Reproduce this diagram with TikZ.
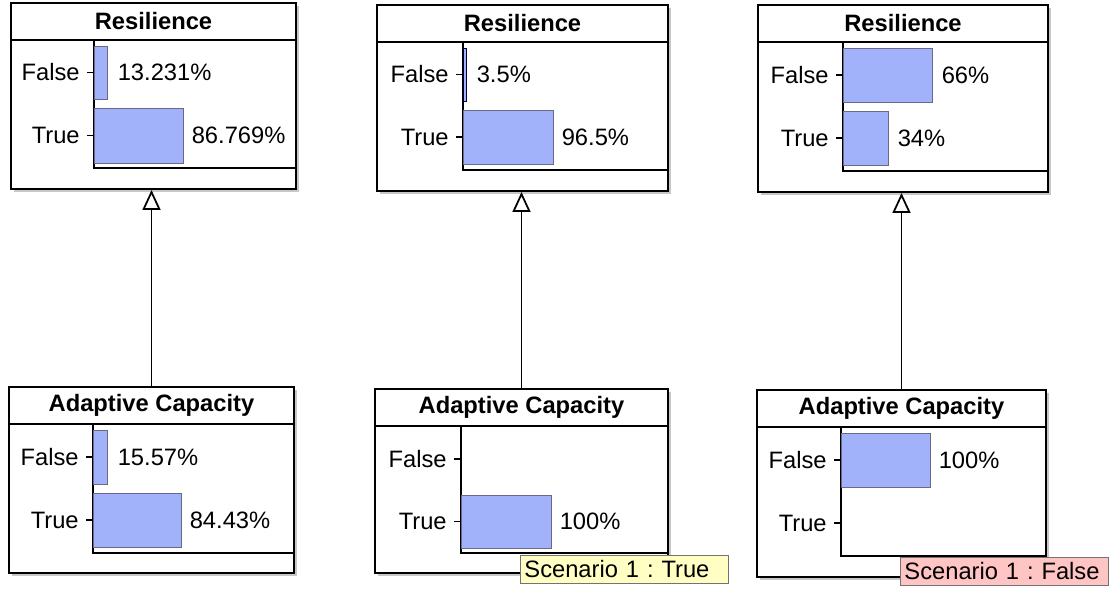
\documentclass[tikz,border=0pt]{standalone}
\usepackage{fontspec}
\setmainfont{Liberation Sans}
\usepackage{tikz}
\usetikzlibrary{positioning,arrows.meta,calc,fit,shadows}
\usepackage{xcolor}
\definecolor{barfill}{RGB}{162,178,250}
\definecolor{barline}{RGB}{105,105,135}
\definecolor{tipyel}{RGB}{255,255,196}
\definecolor{tippink}{RGB}{255,196,196}
\frenchspacing

\tikzset{
  netbox/.style={draw,line width=1.1pt,fill=white,inner sep=0pt,
    drop shadow={shadow xshift=0.06cm,shadow yshift=-0.06cm,fill=black!22,opacity=1}},
  hline/.style={line width=0.9pt},
  axisline/.style={line width=1.1pt},
  bar/.style={draw=barline,fill=barfill,line width=0.5pt,inner sep=0pt},
  ttl/.style={font=\fontsize{13.5}{16}\selectfont\bfseries,inner sep=0pt},
  lbl/.style={anchor=east,inner sep=0pt},
  val/.style={inner sep=0pt},
  tick/.style={line width=0.8pt},
  link/.style={line width=0.9pt,-{Triangle[open,fill=white,length=0.4cm,width=0.36cm,line width=1pt]}},
  scen/.style={draw=black!55,line width=0.5pt,anchor=north west,text width=4cm,
    align=left,inner xsep=0.08cm,inner ysep=0pt,minimum height=0.56cm}
}

\begin{document}
\begin{tikzpicture}[x=0.02cm,y=-0.02cm,font=\fontsize{13.5}{16}\selectfont]
\useasboundingbox[fill=white] (0,0) rectangle (1119,591);

% Resilience, prior
\node[netbox,fit={(11,3) (296,189)}] (resA) {};
\node[ttl] (resAname) at (153.5,21.5) {Resilience};
\draw[hline] (11,40) -- (296,40);
\draw[axisline] (94,40) -- (94,168) -- (296,168);
\node[bar,fit={(94,46) (107,99)}] (resAfalse) {};
\node[bar,fit={(94,108) (183,163)}] (resAtrue) {};
\node[lbl] (resAlf) at (80,72.5) {False};
\node[lbl] (resAlt) at (80,135.5) {True};
\draw[tick] (87,72.5) -- (94,72.5);
\draw[tick] (87,135.5) -- (94,135.5);
\node[val,right=0.2cm of resAfalse] (resAvf) {13.231\%};
\node[val,right=0.16cm of resAtrue] (resAvt) {86.769\%};

% Resilience, Scenario 1 : True
\node[netbox,fit={(377,5) (668,191)}] (resB) {};
\node[ttl] (resBname) at (522.5,23.5) {Resilience};
\draw[hline] (377,42) -- (668,42);
\draw[axisline] (463,42) -- (463,170) -- (668,170);
\node[bar,draw=black!80!blue,fit={(463,48) (466,101)}] (resBfalse) {};
\node[bar,fit={(463,110) (553,164)}] (resBtrue) {};
\node[lbl] (resBlf) at (449,74.5) {False};
\node[lbl] (resBlt) at (449,137) {True};
\draw[tick] (456,74.5) -- (463,74.5);
\draw[tick] (456,137) -- (463,137);
\node[val,right=0.2cm of resBfalse] (resBvf) {3.5\%};
\node[val,right=0.16cm of resBtrue] (resBvt) {96.5\%};

% Resilience, Scenario 1 : False
\node[netbox,fit={(758,5) (1048,192)}] (resC) {};
\node[ttl] (resCname) at (903,23.5) {Resilience};
\draw[hline] (758,42) -- (1048,42);
\draw[axisline] (843,42) -- (843,171) -- (1048,171);
\node[bar,fit={(843,48) (932,102)}] (resCfalse) {};
\node[bar,fit={(843,111) (888,165)}] (resCtrue) {};
\node[lbl] (resClf) at (829,75) {False};
\node[lbl] (resClt) at (829,138) {True};
\draw[tick] (836,75) -- (843,75);
\draw[tick] (836,138) -- (843,138);
\node[val,right=0.18cm of resCfalse] (resCvf) {66\%};
\node[val,right=0.18cm of resCtrue] (resCvt) {34\%};

% Adaptive Capacity, prior
\node[netbox,fit={(9,387) (294,573)}] (adcA) {};
\node[ttl] (adcAname) at (151.5,405.5) {Adaptive Capacity};
\draw[hline] (9,424) -- (294,424);
\draw[axisline] (93,424) -- (93,553) -- (294,553);
\node[bar,fit={(93,430) (107,484)}] (adcAfalse) {};
\node[bar,fit={(93,493) (181,547)}] (adcAtrue) {};
\node[lbl] (adcAlf) at (79,457) {False};
\node[lbl] (adcAlt) at (79,520) {True};
\draw[tick] (86,457) -- (93,457);
\draw[tick] (86,520) -- (93,520);
\node[val,right=0.2cm of adcAfalse] (adcAvf) {15.57\%};
\node[val,right=0.16cm of adcAtrue] (adcAvt) {84.43\%};

% Adaptive Capacity set to True
\node[netbox,fit={(375,389) (668,573)}] (adcB) {};
\node[ttl] (adcBname) at (521.5,407.5) {Adaptive Capacity};
\draw[hline] (375,426) -- (668,426);
\draw[axisline] (461,426) -- (461,553) -- (668,553);
\node[bar,fit={(461,495) (551,548)}] (adcBtrue) {};
\node[lbl] (adcBlf) at (447,459) {False};
\node[lbl] (adcBlt) at (447,521.5) {True};
\draw[tick] (454,459) -- (461,459);
\draw[tick] (454,521.5) -- (461,521.5);
\node[val,right=0.16cm of adcBtrue] (adcBvt) {100\%};
\node[scen,fill=tipyel] (scenB) at (520,555) {Scenario 1 : True};

% Adaptive Capacity set to False
\node[netbox,fit={(757,390) (1046,577)}] (adcC) {};
\node[ttl] (adcCname) at (901.5,408.5) {Adaptive Capacity};
\draw[hline] (757,427) -- (1046,427);
\draw[axisline] (841,427) -- (841,556) -- (1046,556);
\node[bar,fit={(841,433) (930,487)}] (adcCfalse) {};
\node[lbl] (adcClf) at (827,460) {False};
\node[lbl] (adcClt) at (827,523) {True};
\draw[tick] (834,460) -- (841,460);
\draw[tick] (834,523) -- (841,523);
\node[val,right=0.16cm of adcCfalse] (adcCvf) {100\%};
\node[scen,fill=tippink] (scenC) at (900,557) {Scenario 1 : False};

% links
\draw[link] (adcA.north) -- (adcA.north |- resA.south);
\draw[link] (adcB.north) -- (adcB.north |- resB.south);
\draw[link] (adcC.north) -- (adcC.north |- resC.south);
\end{tikzpicture}
\end{document}
